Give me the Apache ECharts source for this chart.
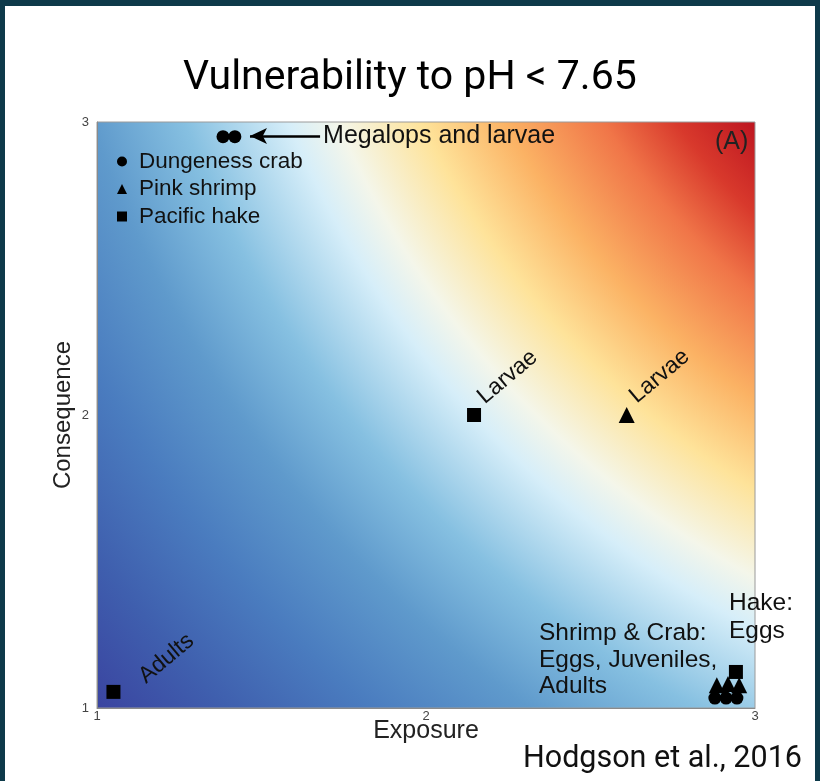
<!DOCTYPE html>
<html>
<head>
<meta charset="utf-8">
<script src="https://cdn.jsdelivr.net/npm/echarts@6/dist/echarts.min.js"></script>
<style>
  html, body { margin: 0; padding: 0; background: #fff; }
  #chart { width: 820px; height: 781px; }
  #frame {
    position: absolute; left: 0; top: 0; width: 820px; height: 781px;
    box-sizing: border-box; border-style: solid; border-color: #0e3a4a;
    border-width: 6px 5px 0 5px; pointer-events: none;
  }
</style>
</head>
<body>
<div id="chart"></div>
<div id="frame"></div>
<script>
  // values
  const xTicks = [1, 2, 3];
  const yTicks = [1, 2, 3];

  const crabExposure = [1.383, 1.419, 2.878, 2.912, 2.945];
  const crabConsequence = [2.95, 2.95, 1.034, 1.034, 1.034];

  const shrimpExposure = [2.61, 2.884, 2.918, 2.952];
  const shrimpConsequence = [2.0, 1.078, 1.082, 1.078];
  const shrimpLabels = ['Larvae', '', '', ''];

  const hakeExposure = [1.05, 2.146, 2.942];
  const hakeConsequence = [1.055, 2.0, 1.123];
  const hakeLabels = ['Adults', 'Larvae', ''];

  const arrowExposure = [1.465, 1.678];
  const arrowConsequence = 2.952;

  const font = 'Liberation Sans';

  // label placement for the rotated point labels
  const labelOffset = {
    hake: [[30, 20], [15, 4], [0, 0]],
    shrimp: [[15, 3], [0, 0], [0, 0], [0, 0]],
  };

  function points(xs, ys, labels, offsets) {
    return xs.map((x, i) => {
      const item = { value: [x, ys[i]] };
      if (labels && labels[i]) {
        item.label = {
          show: true,
          formatter: labels[i],
          position: 'inside',
          align: 'left',
          verticalAlign: 'bottom',
          rotate: 40,
          offset: offsets[i],
          fontSize: 23,
          fontFamily: font,
          color: '#111',
        };
      }
      return item;
    });
  }

  // vulnerability surface behind the points
  const surface = {
    type: 'radial', x: 1200, y: -250, r: 1461, global: true,
    colorStops: [
      { offset: 0.0, color: '#a50f1e' },
      { offset: 0.397, color: '#bd1520' },
      { offset: 0.44, color: '#d8392c' },
      { offset: 0.481, color: '#f07548' },
      { offset: 0.539, color: '#fbb264' },
      { offset: 0.591, color: '#fee39a' },
      { offset: 0.643, color: '#f4f6ea' },
      { offset: 0.674, color: '#d6eef9' },
      { offset: 0.74, color: '#86c0e1' },
      { offset: 0.8, color: '#5f9acc' },
      { offset: 0.867, color: '#4a7cbf' },
      { offset: 0.935, color: '#3f5fae' },
      { offset: 1.0, color: '#3a44a0' },
    ],
  };

  const chart = echarts.init(document.getElementById('chart'));
  chart.setOption({
    animation: false,
    backgroundColor: '#fff',
    title: {
      text: 'Vulnerability to pH < 7.65',
      left: 178,
      top: 53,
      textStyle: { fontFamily: 'Roboto', fontWeight: 'normal', fontSize: 41, color: '#000' },
    },
    grid: {
      left: 97, top: 122, width: 658, height: 586,
      containLabel: false,
      show: true,
      backgroundColor: surface,
      borderColor: '#9a9a9a',
      borderWidth: 1,
    },
    legend: {
      orient: 'vertical',
      left: 112,
      top: 145,
      itemWidth: 10,
      itemHeight: 10,
      itemGap: 4.5,
      selectedMode: false,
      textStyle: { fontFamily: font, fontSize: 22.5, lineHeight: 22, color: '#111', padding: [0, 0, 0, 7] },
      data: ['Dungeness crab', 'Pink shrimp', 'Pacific hake'],
    },
    xAxis: {
      type: 'value',
      min: 1, max: 3, interval: 1,
      name: 'Exposure',
      nameLocation: 'middle',
      nameGap: 11,
      nameMoveOverlap: false,
      nameTextStyle: { fontFamily: font, fontSize: 25, color: '#222' },
      axisLine: { lineStyle: { color: '#8a8a8a' } },
      axisTick: { show: false },
      splitLine: { show: false },
      axisLabel: {
        margin: 2, fontFamily: font, fontSize: 13, color: '#444',
        formatter: v => (xTicks.includes(v) ? String(v) : ''),
      },
    },
    yAxis: {
      type: 'value',
      min: 1, max: 3, interval: 1,
      name: 'Consequence',
      nameLocation: 'middle',
      nameGap: 22,
      nameMoveOverlap: false,
      nameTextStyle: { fontFamily: font, fontSize: 24, color: '#222' },
      axisLine: { show: true, lineStyle: { color: '#8a8a8a' } },
      axisTick: { show: false },
      splitLine: { show: false },
      axisLabel: {
        margin: 8, fontFamily: font, fontSize: 13, color: '#444',
        formatter: v => (yTicks.includes(v) ? String(v) : ''),
      },
    },
    series: [
      {
        name: 'Dungeness crab',
        type: 'scatter',
        symbol: 'circle',
        symbolSize: 13,
        itemStyle: { color: '#000', opacity: 1 },
        data: points(crabExposure, crabConsequence),
        markLine: {
          silent: true,
          symbol: ['arrow', 'none'],
          symbolSize: [12, 17],
          lineStyle: { color: '#000', width: 2.5, type: 'solid' },
          label: {
            show: true, position: 'end', distance: 3,
            formatter: 'Megalops and larvae',
            fontFamily: font, fontSize: 25, color: '#111',
          },
          data: [[
            { coord: [arrowExposure[0], arrowConsequence] },
            { coord: [arrowExposure[1], arrowConsequence] },
          ]],
        },
      },
      {
        name: 'Pink shrimp',
        type: 'scatter',
        symbol: 'triangle',
        symbolSize: 16,
        itemStyle: { color: '#000', opacity: 1 },
        data: points(shrimpExposure, shrimpConsequence, shrimpLabels, labelOffset.shrimp),
      },
      {
        name: 'Pacific hake',
        type: 'scatter',
        symbol: 'rect',
        symbolSize: 14,
        itemStyle: { color: '#000', opacity: 1 },
        data: points(hakeExposure, hakeConsequence, hakeLabels, labelOffset.hake),
      },
    ],
    graphic: [
      { type: 'text', left: 715, top: 130, style: { text: '(A)', font: '25px "Liberation Sans"', fill: '#222' } },
      {
        type: 'text', left: 539, top: 620,
        style: { text: 'Shrimp & Crab:\nEggs, Juveniles,\nAdults', font: '24.5px "Liberation Sans"', lineHeight: 26.5, fill: '#111' },
      },
      {
        type: 'text', left: 729, top: 589,
        style: { text: 'Hake:\nEggs', font: '24.5px "Liberation Sans"', lineHeight: 28, fill: '#111' },
      },
      { type: 'text', left: 523, top: 744, style: { text: 'Hodgson et al., 2016', font: '30.5px Roboto', fill: '#111' } },
    ],
  });
</script>
</body>
</html>
